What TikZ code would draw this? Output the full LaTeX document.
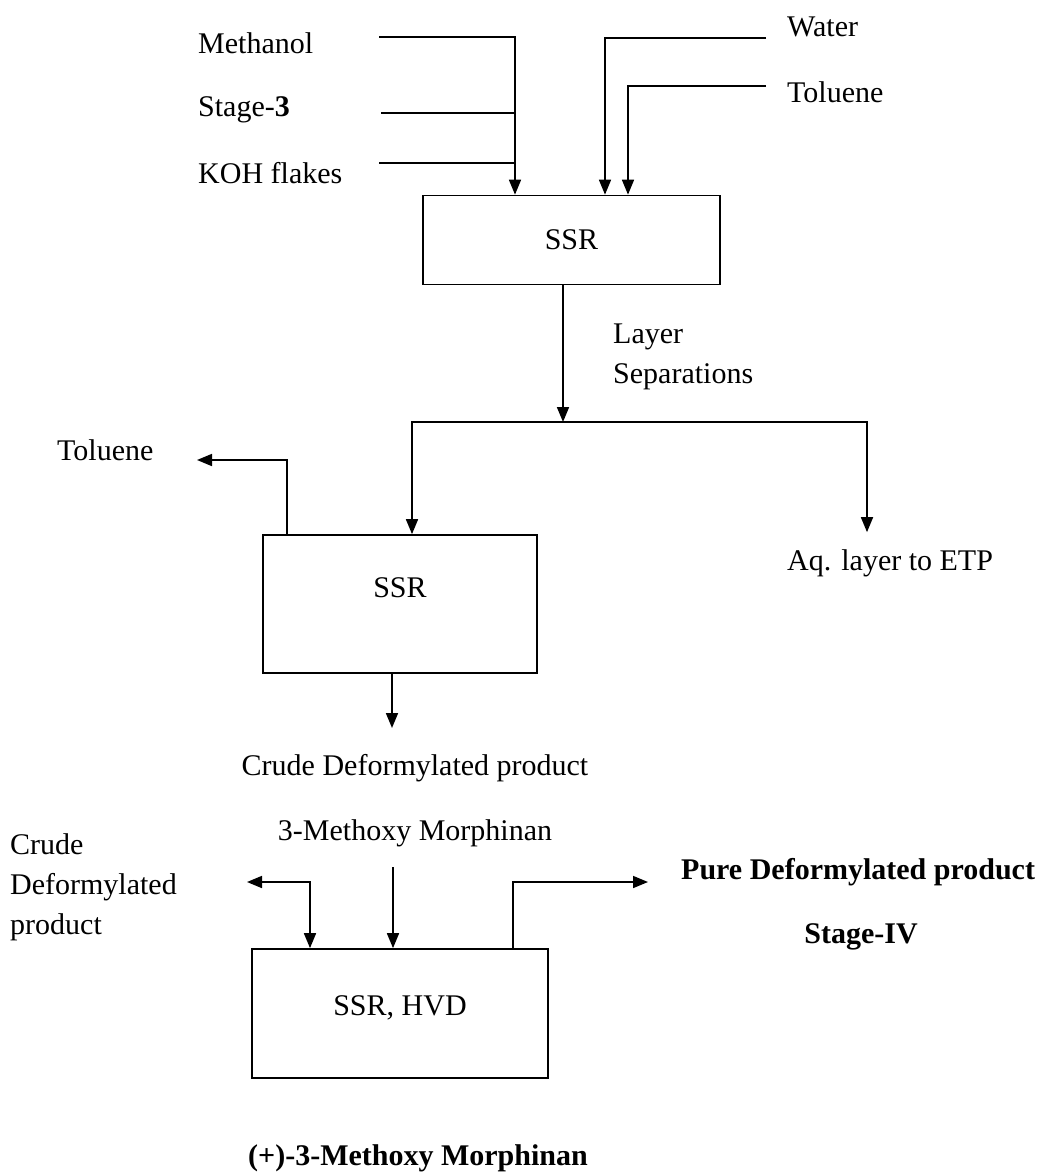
\documentclass[tikz,border=0pt]{standalone}
\usepackage{fontspec}
\setmainfont{Liberation Serif}
\usetikzlibrary{arrows.meta,positioning}

\tikzset{
  vessel/.style={draw, line width=1.7pt, inner sep=0pt},
  pipe/.style={line width=1.7pt},
  flow/.style={line width=1.7pt, -{Triangle[length=15pt,width=12pt]}},
  twoway/.style={line width=1.7pt, {Triangle[length=15pt,width=12pt]}-{Triangle[length=15pt,width=12pt]}}
}

\begin{document}
\begin{tikzpicture}[x=1pt, y=-1pt, node distance=65pt,
  every node/.style={font=\fontsize{30}{40}\selectfont, inner sep=0pt}]

  \useasboundingbox (0,0) rectangle (1047,1173);

  % Nodes
  \node (methanol) [anchor=west] at (198,43) {Methanol};
  \node (stage) [anchor=west] at ([yshift=-67pt]methanol.west) {Stage-\textbf{3}};
  \node (koh) [anchor=west] at ([yshift=-63pt]stage.west) {KOH flakes};
  \node (water) [anchor=west] at (787,27) {Water};
  \node (toluin) [anchor=west] at ([yshift=-65pt]water.west) {Toluene};

  \node (ssra) [vessel, minimum width=297pt, minimum height=89pt] at (571.5,240) {SSR};
  \node (layer) [anchor=west, align=left] at (613,357) {Layer\\Separations};

  \node (ssrb) [vessel, minimum width=274pt, minimum height=138pt, text depth=32pt] at (400,604) {SSR};
  \node (toluout) [anchor=west] at (57,450) {Toluene};
  \node (aq) [anchor=west] at (787,563) {Aq. layer to ETP};

  \node (crude) at (415,768) {Crude Deformylated product};
  \node (methoxy) [below of=crude] {3-Methoxy Morphinan};
  \node (crudeleft) [anchor=west, align=left] at (10,887) {Crude\\Deformylated\\product};

  \node (ssrc) [vessel, minimum width=296pt, minimum height=129pt, text depth=16pt] at (400,1013.5) {SSR, HVD};
  \node (pure) [anchor=west] at (681,872) {\bfseries Pure Deformylated product};
  \node (stagefour) [below of=pure, xshift=3pt] {\bfseries Stage-IV};
  \node (final) at (418,1158) {\bfseries (+)-3-Methoxy Morphinan};

  % Free ends and bends
  \coordinate (methanolin) at (379,37);
  \coordinate (stagein) at (381,113);
  \coordinate (kohin) at (379,163);
  \coordinate (feed) at (515,37);
  \coordinate (waterin) at (766,38);
  \coordinate (waterbend) at (605,38);
  \coordinate (toluin2) at (766,86);
  \coordinate (tolubend) at (628,86);
  \coordinate (split) at (563,422);
  \coordinate (splitl) at (412,422);
  \coordinate (splitr) at (867,422);
  \coordinate (toluup) at (287,460);
  \coordinate (toluend) at (197,460);
  \coordinate (crudeout) at (392,728);
  \coordinate (methoxyin) at (393,867);
  \coordinate (crudeend) at (247,882);
  \coordinate (crudebend) at (310,882);
  \coordinate (purebend) at (513,882);
  \coordinate (pureend) at (648,882);

  % Arrows
  \draw[flow] (methanolin) -- (feed) -- (feed |- ssra.north);
  \draw[pipe] (stagein) -- (stagein -| feed);
  \draw[pipe] (kohin) -- (kohin -| feed);
  \draw[flow] (waterin) -- (waterbend) -- (waterbend |- ssra.north);
  \draw[flow] (toluin2) -- (tolubend) -- (tolubend |- ssra.north);

  \draw[flow] (ssra.south -| split) -- (split);
  \draw[flow] (split) -- (splitl) -- (splitl |- ssrb.north);
  \draw[flow] (split) -- (splitr) -- ([yshift=17pt]splitr |- aq.north);
  \draw[flow] (ssrb.north -| toluup) -- (toluup) -- (toluend);

  \draw[flow] (ssrb.south -| crudeout) -- (crudeout);
  \draw[flow] (methoxyin) -- (methoxyin |- ssrc.north);
  \draw[twoway] (crudeend) -- (crudebend) -- (crudebend |- ssrc.north);
  \draw[flow] (ssrc.north -| purebend) -- (purebend) -- (pureend);

\end{tikzpicture}
\end{document}
